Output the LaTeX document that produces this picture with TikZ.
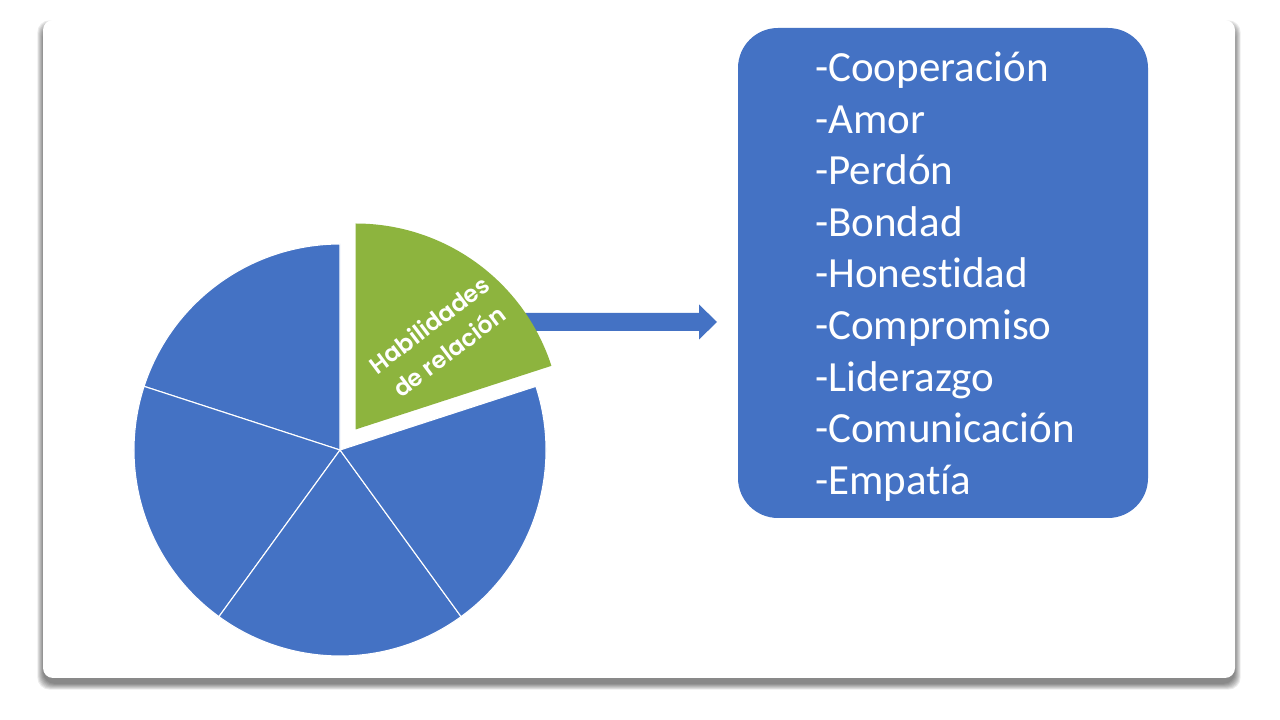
\documentclass[tikz,border=0pt]{standalone}
\usepackage{fontspec}
\usetikzlibrary{calc}
\setmainfont{Carlito}[Ligatures=CommonOff]
\newfontfamily\popfont{Poppins}[BoldFont={Poppins SemiBold}]
\definecolor{pieblue}{HTML}{4472C4}
\definecolor{piegreen}{HTML}{8DB43E}
\tikzset{
  blueslice/.style={fill=pieblue, draw=white, line width=1.1pt, line join=round},
  greenslice/.style={fill=piegreen},
  itemtext/.style={anchor=base west, text=white, inner sep=0pt, font=\fontsize{43}{50}\selectfont},
  listbox/.style={fill=pieblue, rounded corners=40pt, minimum width=410pt, minimum height=490pt, inner sep=0pt},
  slicelabel/.style={text=white, align=center, inner sep=0pt, font=\popfont\bfseries\fontsize{23.5}{33.5}\selectfont}
}
\begin{document}
\begin{tikzpicture}[x=1pt,y=1pt]
\useasboundingbox (0,0) rectangle (1280,720);
% card shadow
\foreach \i in {0,...,7} {
  \fill[black, opacity=0.075, rounded corners=12pt]
    ({43-(7-\i)*0.8}, {36-(7-\i)*0.8}) rectangle ({1235+(7-\i)*0.8}, {694+(7-\i)*0.8});
}
% card
\fill[white, rounded corners=10pt] (43,42) rectangle (1235,700);
% pie
\coordinate (c) at (340,270);
\coordinate (gc) at (355.5,290.5);
\foreach \a/\b in {90/162,162/234,234/306,306/378} {
  \filldraw[blueslice] (c) -- +(\a:206) arc[start angle=\a, end angle=\b, radius=206] -- cycle;
}
% block arrow
\coordinate (arrS) at (500,398);
\coordinate (arrT) at (717,398);
\fill[pieblue] ($(arrS)+(0,9)$) -- (699,407) -- (699,415.5) -- (arrT) -- (699,380.5) -- (699,389) -- ($(arrS)+(0,-9)$) -- cycle;
% exploded green slice
\fill[greenslice] (gc) -- +(18:206) arc[start angle=18, end angle=90, radius=206] -- cycle;
\node[slicelabel, rotate=37] (lbl) at (439,382) {Habilidades\\de relación};
% list box
\node[listbox] (box) at (943,447) {};
\foreach \t [count=\k from 0] in {-Cooperación,-Amor,-Perdón,-Bondad,-Honestidad,-Compromiso,-Liderazgo,-Comunicación,-Empatía} {
  \node[itemtext] (item\k) at (815,{638.5-\k*51.6}) {\t};
}
\end{tikzpicture}
\end{document}
